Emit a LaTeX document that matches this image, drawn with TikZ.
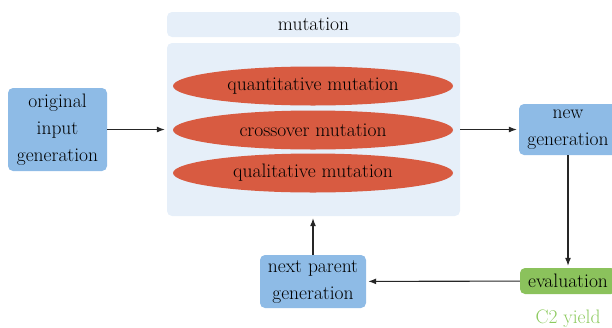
\documentclass[tikz,border=0pt]{standalone}
\usepackage{fontspec}
\usetikzlibrary{shapes.geometric,arrows.meta}
\definecolor{boxblue}{HTML}{8EBBE6}
\definecolor{mutred}{HTML}{D85B41}
\definecolor{paleblue}{HTML}{E6EFF9}
\definecolor{evalgreen}{HTML}{8BC25C}
\definecolor{yieldgreen}{HTML}{8DCA5F}
\tikzset{
	stepbox/.style={rectangle, rounded corners=5pt, fill=boxblue, align=center,
		inner sep=0pt},
	mutell/.style={ellipse, fill=mutred, minimum width=280pt, minimum height=39pt,
		inner sep=0pt},
	palebox/.style={rectangle, rounded corners=5pt, fill=paleblue, inner sep=0pt,
		minimum width=293pt},
	flow/.style={-{Latex[length=8pt,width=6pt]}, line width=1.1pt, black!85,
		shorten >=2pt}
}
\begin{document}
\begin{tikzpicture}[x=1pt, y=-1pt, font=\fontsize{19.5}{27}\selectfont]
	\useasboundingbox (0,0) rectangle (612,327);
	% Mutationsblock
	\node[palebox, minimum height=25pt] (mutlabel) at (313.5, 24.5) {mutation};
	\node[palebox, minimum height=173pt] (mutbox) at (313.5, 129.5) {};
	\node[mutell] (quant) at (313, 86) {quantitative mutation};
	\node[mutell] (cross) at (313, 130) {crossover mutation};
	\node[mutell] (qual) at (313, 173) {qualitative mutation};

	% Generationen
	\node[stepbox, minimum width=99pt, minimum height=83pt] (orig) at (57.5, 129.5)
		{original\\input\\generation};
	\node[stepbox, minimum width=98pt, minimum height=51pt] (newgen) at (568, 129.5)
		{new\\generation};
	\node[stepbox, fill=evalgreen, minimum width=96pt, minimum height=26pt] (eval)
		at (568, 281) {evaluation};
	\node[stepbox, minimum width=106pt, minimum height=53pt] (next) at (313, 281.5)
		{next parent\\generation};
	\node[text=yieldgreen] (yield) at (568, 319) {C2 yield};

	% Pfeile
	\draw[flow] (orig) -- (mutbox);
	\draw[flow] (mutbox) -- (newgen);
	\draw[flow] (newgen) -- (eval);
	\draw[flow] (eval) -- (next);
	\draw[flow] (next) -- (next |- mutbox.south);
\end{tikzpicture}
\end{document}
